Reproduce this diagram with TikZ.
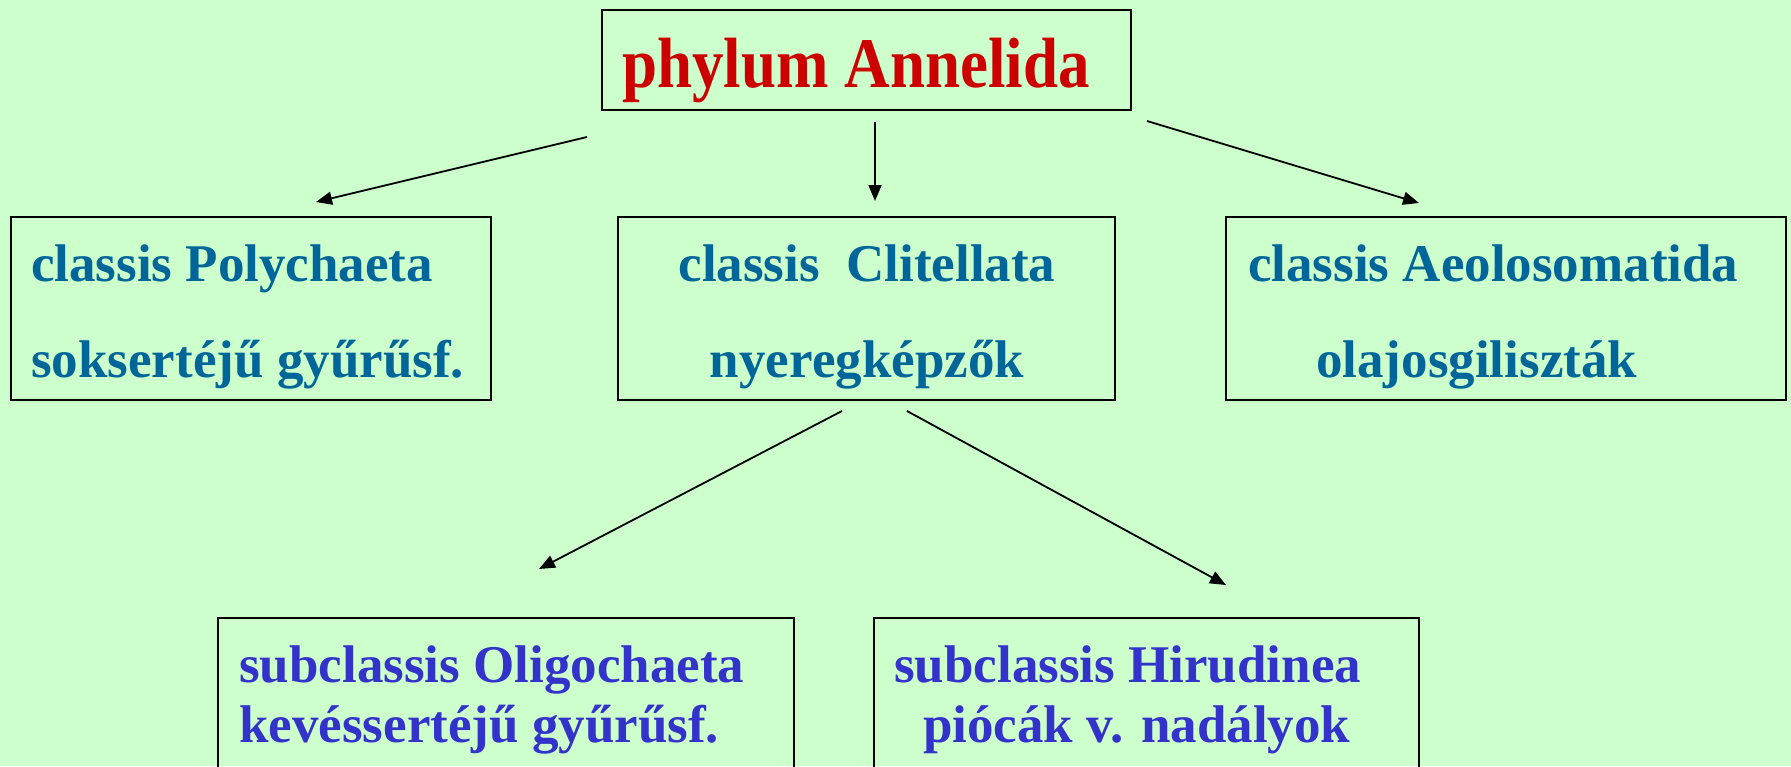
\documentclass[tikz,border=0pt]{standalone}
\usepackage{fontspec}
\usepackage{graphicx}
\setmainfont{Liberation Serif}
\usetikzlibrary{arrows.meta}
\definecolor{bgc}{HTML}{CCFFCC}
\definecolor{redc}{HTML}{CC0000}
\definecolor{classc}{HTML}{006699}
\definecolor{subc}{HTML}{3333CC}
\begin{document}
\begin{tikzpicture}[x=1pt,y=-1pt,
  box/.style={draw=black,line width=2.6pt,rectangle,inner sep=0pt},
  lbl/.style={anchor=base west,inner sep=0pt,font=\fontsize{53}{60}\selectfont\bfseries},
  toplbl/.style={anchor=base west,inner sep=0pt,font=\fontsize{63}{70}\selectfont\bfseries,text=redc},
  conn/.style={line width=1.8pt,-{Triangle[length=16pt,width=13pt]}}]
\fill[bgc] (0,0) rectangle (1791,766);
\useasboundingbox (0,0) rectangle (1791,766);
\begin{scope}
\clip (0,0) rectangle (1791,766);
% boxes
\node[box,minimum width=529pt,minimum height=100pt] (top) at (866.5,60) {};
\node[box,minimum width=480pt,minimum height=183pt] (poly) at (251,308.5) {};
\node[box,minimum width=497pt,minimum height=183pt] (clit) at (866.5,308.5) {};
\node[box,minimum width=560pt,minimum height=183pt] (aeol) at (1506,308.5) {};
\node[box,minimum width=576pt,minimum height=200pt] (olig) at (506,718) {};
\node[box,minimum width=545pt,minimum height=200pt] (hiru) at (1146.5,718) {};
\end{scope}
% texts
\node[toplbl] (ttop) at (622,87) {\scalebox{1}[1.13]{phylum Annelida}};
\node[lbl,text=classc] (tpoly1) at (31,281) {classis Polychaeta};
\node[lbl,text=classc] (tpoly2) at (31,377) {soksertéjű gyűrűsf.};
\node[lbl,text=classc,anchor=base] (tclit1) at (867,281) {classis\ \ Clitellata};
\node[lbl,text=classc,anchor=base] (tclit2) at (867,377) {nyeregképzők};
\node[lbl,text=classc] (taeol1) at (1248,281) {classis Aeolosomatida};
\node[lbl,text=classc] (taeol2) at (1316,377) {olajosgiliszták};
\node[lbl,text=subc] (tolig1) at (239,682) {subclassis Oligochaeta};
\node[lbl,text=subc] (tolig2) at (239,742) {kevéssertéjű gyűrűsf.};
\node[lbl,text=subc] (thiru1) at (894,682) {subclassis Hirudinea};
\node[lbl,text=subc] (thiru2) at (923,742) {piócák v. nadályok};
% connector end points
\coordinate (a1s) at (587,137);
\coordinate (a1e) at (316,202);
\coordinate (a2s) at (875,122);
\coordinate (a2e) at (875,201);
\coordinate (a3s) at (1147,121);
\coordinate (a3e) at (1419,203);
\coordinate (a4s) at (842,411);
\coordinate (a4e) at (539,569);
\coordinate (a5s) at (907,411);
\coordinate (a5e) at (1226,585);
\draw[conn] (a1s) -- (a1e);
\draw[conn] (a2s) -- (a2e);
\draw[conn] (a3s) -- (a3e);
\draw[conn] (a4s) -- (a4e);
\draw[conn] (a5s) -- (a5e);
\end{tikzpicture}
\end{document}
